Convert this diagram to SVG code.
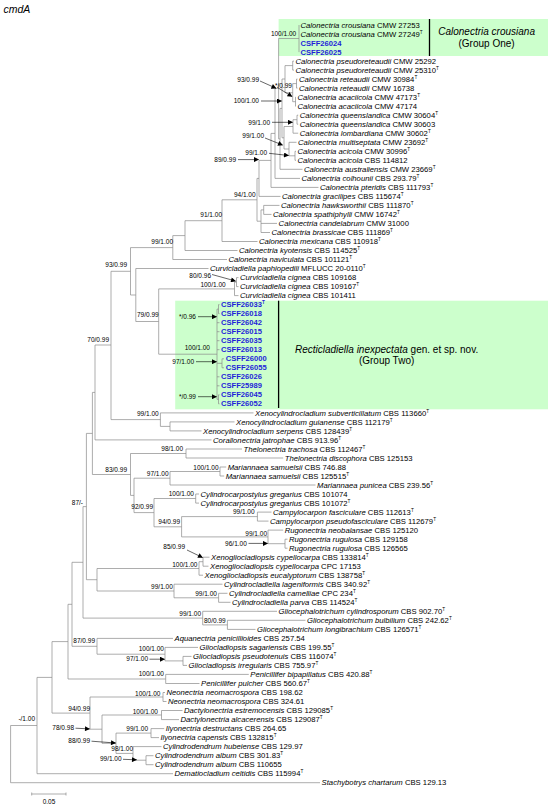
<svg xmlns="http://www.w3.org/2000/svg" width="550" height="807" viewBox="0 0 550 807">
<style>
text{font-family:"Liberation Sans",Arial,sans-serif;fill:#000}
.t{font-size:7.7px}
.i{font-style:italic}
.b{font-size:7.6px;font-weight:bold;fill:#1f1fd9}
.s{font-size:6.5px;text-anchor:end}
.sa{font-size:6.5px}
.sup{font-size:4.7px}
.box{fill:#ccffcc}
.sep{stroke:#000;stroke-width:1.3}
.br{fill:none;stroke:#8a8a8a;stroke-width:0.7}
.ar{fill:none;stroke:#000;stroke-width:0.6;marker-end:url(#ah)}
.big{font-size:10px;text-anchor:middle}
</style>
<defs>
<marker id="ah" viewBox="0 0 10 10" refX="9" refY="5" markerWidth="6" markerHeight="5" orient="auto" markerUnits="userSpaceOnUse"><path d="M0 0 L10 5 L0 10 Z" fill="#000"/></marker>
</defs>
<rect width="550" height="807" fill="#fff"/>
<text x="3.5" y="12.5" class="i" style="font-size:10.5px">cmdA</text>
<g id="group-one">
<rect class="box" x="278.6" y="19" width="269.4" height="37"/>
<line class="sep" x1="429.5" y1="19" x2="429.5" y2="56"/>
<text x="486.6" y="35" class="big i">Calonectria crousiana</text>
<text x="486.6" y="47" class="big">(Group One)</text>
</g>
<g id="group-two">
<rect class="box" x="175.2" y="300.7" width="372.8" height="108.6"/>
<line class="sep" x1="278.6" y1="300.7" x2="278.6" y2="408"/>
<text x="386.6" y="352.5" class="big"><tspan class="i">Recticladiella inexpectata</tspan> gen. et sp. nov.</text>
<text x="386.6" y="364" class="big">(Group Two)</text>
</g>
<g id="connectors" class="br">
<path d="M10.6 725.5V782.7M10.6 725.5H37M10.6 782.7H320"/>
<path d="M37 677.4V773.7M37 677.4H52M37 773.7H173"/>
<path d="M52 641.6V713.1M52 641.6H68M52 713.1H90"/>
<path d="M68 604.3V679M68 604.3H72M68 679H165.7"/>
<path d="M72 562.3V646.3M72 562.3H83M72 646.3H97"/>
<path d="M83 506.6V618.1M83 506.6H86.4M83 618.1H202.7"/>
<path d="M86.4 433.4V579.7M86.4 433.4H92.4M86.4 579.7H97"/>
<path d="M92.4 392.4V474.5M92.4 392.4H95M92.4 474.5H130.5"/>
<path d="M95 345V439.9M95 345H111M95 439.9H211.5"/>
<path d="M111 271.3V419.6M111 271.3H130.5M111 419.6H160.4"/>
<path d="M130.5 247.6V295M130.5 247.6H172.8M130.5 295H135.8"/>
<path d="M135.8 268.5V321.5M135.8 268.5H208.5M135.8 321.5H158.7"/>
<path d="M158.7 288.9V354.2M158.7 288.9H234.5M158.7 354.2H217"/>
<path d="M234.5 282.1V295.6M234.5 282.1H236.5M234.5 295.6H238.5"/>
<path d="M236.5 277.6V286.6M236.5 277.6H238.5M236.5 286.6H238.5"/>
<path d="M217 309.1V399.3M217 309.1H218.5M218.5 304.6V313.6M218.5 304.6H219.5M218.5 313.6H219.5M217 322.7H219.5M217 331.7H219.5M217 340.7H219.5M217 349.7H219.5M217 363.3H222M222 358.8V367.8M222 358.8H224M222 367.8H224M217 376.8H219.5M217 385.8H219.5M217 399.3H218.5M218.5 394.8V403.8M218.5 394.8H219.5M218.5 403.8H219.5"/>
<path d="M160.4 412.9V426.4M160.4 412.9H253.5M160.4 426.4H170"/>
<path d="M170 421.9V430.9M170 421.9H234.5M170 430.9H201.5"/>
<path d="M130.5 453.5V495.4M130.5 453.5H186M130.5 495.4H134"/>
<path d="M186 449V458M186 449H242M186 458H283.2"/>
<path d="M134 478.2V512.6M134 478.2H170M134 512.6H154"/>
<path d="M170 471.5V485M170 471.5H220M170 485H315.5"/>
<path d="M220 467V476M220 467H226.2M220 476H224.2"/>
<path d="M154 498.5V526.8M154 498.5H195.7M154 526.8H181.6"/>
<path d="M195.7 494V503.1M195.7 494H199M195.7 503.1H199"/>
<path d="M181.6 516.6V536.9M181.6 516.6H257.4M181.6 536.9H268"/>
<path d="M257.4 512.1V521.1M257.4 512.1H271.5M257.4 521.1H268.5"/>
<path d="M268 530.1V543.7M268 530.1H283.2M268 543.7H285"/>
<path d="M285 539.2V548.2M285 539.2H287.5M285 548.2H287.5"/>
<path d="M97 568.5V591M97 568.5H199M97 591H174"/>
<path d="M199 561.7V575.2M199 561.7H203M199 575.2H203"/>
<path d="M203 557.2V566.2M203 557.2H209.5M203 566.2H208.5"/>
<path d="M174 584.2V597.8M174 584.2H222.5M174 597.8H218.6"/>
<path d="M218.6 593.3V602.3M218.6 593.3H227.5M218.6 602.3H230.5"/>
<path d="M202.7 611.3V624.9M202.7 611.3H277M202.7 624.9H227.4"/>
<path d="M227.4 620.3V629.4M227.4 620.3H305.5M227.4 629.4H255.5"/>
<path d="M97 638.4V654.2M97 638.4H173M97 654.2H165"/>
<path d="M165 647.4V660.9M165 647.4H198M165 660.9H183"/>
<path d="M183 656.4V665.4M183 656.4H191.5M183 665.4H187"/>
<path d="M165.7 674.4V683.5M165.7 674.4H248.8M165.7 683.5H199.5"/>
<path d="M90 697V729.2M90 697H163M90 729.2H102"/>
<path d="M163 692.5V701.5M163 692.5H165M163 701.5H166.5"/>
<path d="M102 715V743.3M102 715H161.5M102 743.3H116"/>
<path d="M161.5 710.5V719.6M161.5 710.5H182.5M161.5 719.6H179"/>
<path d="M116 733.1V753.4M116 733.1H151M116 753.4H133"/>
<path d="M151 728.6V737.6M151 728.6H164.2M151 737.6H159"/>
<path d="M133 746.6V760.2M133 746.6H161.5M133 760.2H146"/>
<path d="M146 755.7V764.7M146 755.7H153.5M146 764.7H153.5"/>
<path d="M172.8 235.6V259.5M172.8 235.6H185M172.8 259.5H227"/>
<path d="M185 220.7V250.5M185 220.7H222M185 250.5H237.5"/>
<path d="M222 199.8V241.5M222 199.8H257M222 241.5H257.5"/>
<path d="M257 178.4V221.2M257 178.4H259M257 221.2H261"/>
<path d="M259 160.4V196.4M259 160.4H271M259 196.4H280.5"/>
<path d="M261 209.9V232.5M261 209.9H263.7M261 223.4H277M261 232.5H270"/>
<path d="M263.7 205.4V214.4M263.7 205.4H279.5M263.7 214.4H271.5"/>
<path d="M271 133.4V187.4M271 133.4H275M271 187.4H318.5"/>
<path d="M275 88.4V178.4M275 88.4H278.6M275 178.4H300"/>
<path d="M278.6 38.5V138.9M278.6 38.5H299M278.6 138.9H280"/>
<path d="M299 25V52.1"/>
<path d="M280 108.4V169.3M280 108.4H282M280 169.3H302.5"/>
<path d="M282 79V137.8M282 79H285M282 137.8H284"/>
<path d="M285 65.6V92.7M285 65.6H292.7M285 92.7H292.7"/>
<path d="M292.7 61.1V70.1M292.7 61.1H294M292.7 70.1H294"/>
<path d="M292.7 83.6V101.7M292.7 83.6H296.5M292.7 101.7H295.5"/>
<path d="M296.5 79.1V88.1M296.5 79.1H297.5M296.5 88.1H297.5"/>
<path d="M295.5 97.2V106.2M295.5 97.2H296M295.5 106.2H296"/>
<path d="M284 126.5V149M284 126.5H293M284 149H289"/>
<path d="M293 119.7V133.2M293 119.7H297M293 133.2H298.2"/>
<path d="M297 115.2V124.2M297 115.2H298.2M297 124.2H298.2"/>
<path d="M289 142.3V155.8M289 142.3H296.5M289 155.8H295"/>
<path d="M295 151.3V160.3M295 151.3H296M295 160.3H296"/>
<path d="M31.7 794H66M31.7 792.5V795.5M66 792.5V795.5"/>
</g>
<g id="arrows">
<path class="ar" d="M260 81L276 88.2"/>
<path class="ar" d="M277.5 87.5L292 96.5"/>
<path class="ar" d="M261 101H281.5"/>
<path class="ar" d="M272 122.3H292.5"/>
<path class="ar" d="M265 138L282.5 145"/>
<path class="ar" d="M269 153.3L288.5 155.5"/>
<path class="ar" d="M238 159.6H258.5"/>
<path class="ar" d="M212 274.5L235.5 281"/>
<path class="ar" d="M198 316.7H216.5"/>
<path class="ar" d="M196 361.7H216.5"/>
<path class="ar" d="M198 396.7H216.5"/>
<path class="ar" d="M248.5 543.4H267.5"/>
<path class="ar" d="M187 550L202.5 557.5"/>
<path class="ar" d="M149.5 659.2H164.5"/>
<path class="ar" d="M75.5 728.2L89.5 728.9"/>
<path class="ar" d="M91.5 741.2L115.5 743"/>
<path class="ar" d="M123 759.3L136.5 759.8"/>
</g>
<g id="supports">
<text class="s" x="296.2" y="36.2">100/1.00</text>
<text class="s" x="259" y="82.3">93/0.99</text>
<text class="sa" x="275" y="88">*/0.99</text>
<text class="s" x="259" y="103.3">100/1.00</text>
<text class="s" x="270" y="124.6">99/1.00</text>
<text class="s" x="264" y="138.3">99/1.00</text>
<text class="s" x="267" y="155">99/1.00</text>
<text class="s" x="236" y="161.6">89/0.99</text>
<text class="s" x="255.6" y="197.3">94/1.00</text>
<text class="s" x="222" y="216.6">91/1.00</text>
<text class="s" x="173" y="244">99/1.00</text>
<text class="s" x="127" y="267.3">93/0.99</text>
<text class="s" x="211" y="278">80/0.96</text>
<text class="s" x="225.7" y="286.6">100/1.00</text>
<text class="s" x="158.7" y="317.3">79/0.99</text>
<text class="s" x="196" y="319">*/0.96</text>
<text class="s" x="109" y="342.3">70/0.99</text>
<text class="s" x="210" y="350">100/1.00</text>
<text class="s" x="194" y="364">97/1.00</text>
<text class="s" x="196" y="399">*/0.99</text>
<text class="s" x="158.7" y="416.3">99/1.00</text>
<text class="s" x="183" y="451.3">98/1.00</text>
<text class="s" x="218.6" y="470.3">100/1.00</text>
<text class="s" x="127" y="472.3">83/0.99</text>
<text class="s" x="168.5" y="475.6">97/1.00</text>
<text class="s" x="194" y="495.6">100/1.00</text>
<text class="s" x="83" y="505">87/-</text>
<text class="s" x="153" y="509">92/0.99</text>
<text class="s" x="254.6" y="514.3">99/1.00</text>
<text class="s" x="180" y="524">94/0.99</text>
<text class="s" x="267" y="535.6">99/1.00</text>
<text class="s" x="246.8" y="545.6">96/1.00</text>
<text class="s" x="185" y="549.3">85/0.99</text>
<text class="s" x="197.5" y="567.3">100/1.00</text>
<text class="s" x="172.8" y="589">99/1.00</text>
<text class="s" x="216.9" y="595.6">99/1.00</text>
<text class="s" x="201" y="615.6">99/1.00</text>
<text class="s" x="225.7" y="623">80/0.99</text>
<text class="s" x="95" y="643">87/0.99</text>
<text class="s" x="164" y="650.6">100/1.00</text>
<text class="s" x="148" y="661.3">97/1.00</text>
<text class="s" x="164" y="676.3">100/1.00</text>
<text class="s" x="160.4" y="695.6">100/1.00</text>
<text class="s" x="90" y="710.6">94/0.99</text>
<text class="s" x="158" y="714">100/1.00</text>
<text class="s" x="35" y="721.3">-/1.00</text>
<text class="s" x="74" y="730">78/0.98</text>
<text class="s" x="148" y="731.3">99/1.00</text>
<text class="s" x="90" y="743.3">88/0.99</text>
<text class="s" x="133" y="751.3">98/1.00</text>
<text class="s" x="121.6" y="761.3">99/1.00</text>
<text class="sa" x="49" y="803.5" text-anchor="middle">0.05</text>
</g>
<g id="taxa" class="t">
<g id="t01"><text class="t" x="300.5" y="27.6"><tspan class="i">Calonectria crousiana</tspan> CMW 27253</text></g>
<g id="t02"><text class="t" x="300.5" y="36.6"><tspan class="i">Calonectria crousiana</tspan> CMW 27249<tspan class="sup" dy="-3">T</tspan></text></g>
<g id="t03"><text class="b" x="300.5" y="45.6">CSFF26024</text></g>
<g id="t04"><text class="b" x="300.5" y="54.7">CSFF26025</text></g>
<g id="t05"><text class="t" x="295.5" y="63.7"><tspan class="i">Calonectria pseudoreteaudii</tspan> CMW 25292</text></g>
<g id="t06"><text class="t" x="295.5" y="72.7"><tspan class="i">Calonectria pseudoreteaudii</tspan> CMW 25310<tspan class="sup" dy="-3">T</tspan></text></g>
<g id="t07"><text class="t" x="299" y="81.7"><tspan class="i">Calonectria reteaudii</tspan> CMW 30984<tspan class="sup" dy="-3">T</tspan></text></g>
<g id="t08"><text class="t" x="299" y="90.7"><tspan class="i">Calonectria reteaudii</tspan> CMW 16738</text></g>
<g id="t09"><text class="t" x="297.5" y="99.8"><tspan class="i">Calonectria acaciicola</tspan> CMW 47173<tspan class="sup" dy="-3">T</tspan></text></g>
<g id="t10"><text class="t" x="297.5" y="108.8"><tspan class="i">Calonectria acaciicola</tspan> CMW 47174</text></g>
<g id="t11"><text class="t" x="299.7" y="117.8"><tspan class="i">Calonectria queenslandica</tspan> CMW 30604<tspan class="sup" dy="-3">T</tspan></text></g>
<g id="t12"><text class="t" x="299.7" y="126.8"><tspan class="i">Calonectria queenslandica</tspan> CMW 30603</text></g>
<g id="t13"><text class="t" x="299.7" y="135.8"><tspan class="i">Calonectria lombardiana</tspan> CMW 30602<tspan class="sup" dy="-3">T</tspan></text></g>
<g id="t14"><text class="t" x="298" y="144.9"><tspan class="i">Calonectria multiseptata</tspan> CMW 23692<tspan class="sup" dy="-3">T</tspan></text></g>
<g id="t15"><text class="t" x="297.5" y="153.9"><tspan class="i">Calonectria acicola</tspan> CMW 30996<tspan class="sup" dy="-3">T</tspan></text></g>
<g id="t16"><text class="t" x="297.5" y="162.9"><tspan class="i">Calonectria acicola</tspan> CBS 114812</text></g>
<g id="t17"><text class="t" x="304" y="171.9"><tspan class="i">Calonectria australiensis</tspan> CMW 23669<tspan class="sup" dy="-3">T</tspan></text></g>
<g id="t18"><text class="t" x="301.5" y="181"><tspan class="i">Calonectria colhounii</tspan> CBS 293.79<tspan class="sup" dy="-3">T</tspan></text></g>
<g id="t19"><text class="t" x="320" y="190"><tspan class="i">Calonectria pteridis</tspan> CBS 111793<tspan class="sup" dy="-3">T</tspan></text></g>
<g id="t20"><text class="t" x="282" y="199"><tspan class="i">Calonectria gracilipes</tspan> CBS 115674<tspan class="sup" dy="-3">T</tspan></text></g>
<g id="t21"><text class="t" x="281" y="208"><tspan class="i">Calonectria hawksworthii</tspan> CBS 111870<tspan class="sup" dy="-3">T</tspan></text></g>
<g id="t22"><text class="t" x="273" y="217"><tspan class="i">Calonectria spathiphylli</tspan> CMW 16742<tspan class="sup" dy="-3">T</tspan></text></g>
<g id="t23"><text class="t" x="278.6" y="226"><tspan class="i">Calonectria candelabrum</tspan> CMW 31000</text></g>
<g id="t24"><text class="t" x="271.5" y="235.1"><tspan class="i">Calonectria brassicae</tspan> CBS 111869<tspan class="sup" dy="-3">T</tspan></text></g>
<g id="t25"><text class="t" x="259" y="244.1"><tspan class="i">Calonectria mexicana</tspan> CBS 110918<tspan class="sup" dy="-3">T</tspan></text></g>
<g id="t26"><text class="t" x="239" y="253.1"><tspan class="i">Calonectria kyotensis</tspan> CBS 114525<tspan class="sup" dy="-3">T</tspan></text></g>
<g id="t27"><text class="t" x="228.5" y="262.1"><tspan class="i">Calonectria naviculata</tspan> CBS 101121<tspan class="sup" dy="-3">T</tspan></text></g>
<g id="t28"><text class="t" x="210" y="271.1"><tspan class="i">Curvicladiella paphiopedili</tspan> MFLUCC 20-0110<tspan class="sup" dy="-3">T</tspan></text></g>
<g id="t29"><text class="t" x="240" y="280.2"><tspan class="i">Curvicladiella cignea</tspan> CBS 109168</text></g>
<g id="t30"><text class="t" x="240" y="289.2"><tspan class="i">Curvicladiella cignea</tspan> CBS 109167<tspan class="sup" dy="-3">T</tspan></text></g>
<g id="t31"><text class="t" x="240" y="298.2"><tspan class="i">Curvicladiella cignea</tspan> CBS 101411</text></g>
<g id="t32"><text class="b" x="221" y="307.2">CSFF26033<tspan class="sup" dy="-3">T</tspan></text></g>
<g id="t33"><text class="b" x="221" y="316.2">CSFF26018</text></g>
<g id="t34"><text class="b" x="221" y="325.3">CSFF26042</text></g>
<g id="t35"><text class="b" x="221" y="334.3">CSFF26015</text></g>
<g id="t36"><text class="b" x="221" y="343.3">CSFF26035</text></g>
<g id="t37"><text class="b" x="221" y="352.3">CSFF26013</text></g>
<g id="t38"><text class="b" x="225.7" y="361.4">CSFF26000</text></g>
<g id="t39"><text class="b" x="225.7" y="370.4">CSFF26055</text></g>
<g id="t40"><text class="b" x="221" y="379.4">CSFF26026</text></g>
<g id="t41"><text class="b" x="221" y="388.4">CSFF25989</text></g>
<g id="t42"><text class="b" x="221" y="397.4">CSFF26045</text></g>
<g id="t43"><text class="b" x="221" y="406.4">CSFF26052</text></g>
<g id="t44"><text class="t" x="255" y="415.5"><tspan class="i">Xenocylindrocladium subverticillatum</tspan> CBS 113660<tspan class="sup" dy="-3">T</tspan></text></g>
<g id="t45"><text class="t" x="236" y="424.5"><tspan class="i">Xenocylindrocladium guianense</tspan> CBS 112179<tspan class="sup" dy="-3">T</tspan></text></g>
<g id="t46"><text class="t" x="203" y="433.5"><tspan class="i">Xenocylindrocladium serpens</tspan> CBS 128439<tspan class="sup" dy="-3">T</tspan></text></g>
<g id="t47"><text class="t" x="213" y="442.5"><tspan class="i">Corallonectria jatrophae</tspan> CBS 913.96<tspan class="sup" dy="-3">T</tspan></text></g>
<g id="t48"><text class="t" x="243.5" y="451.6"><tspan class="i">Thelonectria trachosa</tspan> CBS 112467<tspan class="sup" dy="-3">T</tspan></text></g>
<g id="t49"><text class="t" x="284.7" y="460.6"><tspan class="i">Thelonectria discophora</tspan> CBS 125153</text></g>
<g id="t50"><text class="t" x="227.7" y="469.6"><tspan class="i">Mariannaea samuelsii</tspan> CBS 746.88</text></g>
<g id="t51"><text class="t" x="225.7" y="478.6"><tspan class="i">Mariannaea samuelsii</tspan> CBS 125515<tspan class="sup" dy="-3">T</tspan></text></g>
<g id="t52"><text class="t" x="317" y="487.6"><tspan class="i">Mariannaea punicea</tspan> CBS 239.56<tspan class="sup" dy="-3">T</tspan></text></g>
<g id="t53"><text class="t" x="200.5" y="496.6"><tspan class="i">Cylindrocarpostylus gregarius</tspan> CBS 101074</text></g>
<g id="t54"><text class="t" x="200.5" y="505.7"><tspan class="i">Cylindrocarpostylus gregarius</tspan> CBS 101072<tspan class="sup" dy="-3">T</tspan></text></g>
<g id="t55"><text class="t" x="273" y="514.7"><tspan class="i">Campylocarpon fasciculare</tspan> CBS 112613<tspan class="sup" dy="-3">T</tspan></text></g>
<g id="t56"><text class="t" x="270" y="523.7"><tspan class="i">Campylocarpon pseudofasciculare</tspan> CBS 112679<tspan class="sup" dy="-3">T</tspan></text></g>
<g id="t57"><text class="t" x="284.7" y="532.7"><tspan class="i">Rugonectria neobalansae</tspan> CBS 125120</text></g>
<g id="t58"><text class="t" x="289" y="541.8"><tspan class="i">Rugonectria rugulosa</tspan> CBS 129158</text></g>
<g id="t59"><text class="t" x="289" y="550.8"><tspan class="i">Rugonectria rugulosa</tspan> CBS 126565</text></g>
<g id="t60"><text class="t" x="211" y="559.8"><tspan class="i">Xenogliocladiopsis cypellocarpa</tspan> CBS 133814<tspan class="sup" dy="-3">T</tspan></text></g>
<g id="t61"><text class="t" x="210" y="568.8"><tspan class="i">Xenogliocladiopsis cypellocarpa</tspan> CPC 17153</text></g>
<g id="t62"><text class="t" x="204.5" y="577.8"><tspan class="i">Xenogliocladiopsis eucalyptorum</tspan> CBS 138758<tspan class="sup" dy="-3">T</tspan></text></g>
<g id="t63"><text class="t" x="224" y="586.8"><tspan class="i">Cylindrocladiella lageniformis</tspan> CBS 340.92<tspan class="sup" dy="-3">T</tspan></text></g>
<g id="t64"><text class="t" x="229" y="595.9"><tspan class="i">Cylindrocladiella camelliae</tspan> CPC 234<tspan class="sup" dy="-3">T</tspan></text></g>
<g id="t65"><text class="t" x="232" y="604.9"><tspan class="i">Cylindrocladiella parva</tspan> CBS 114524<tspan class="sup" dy="-3">T</tspan></text></g>
<g id="t66"><text class="t" x="278.6" y="613.9"><tspan class="i">Gliocephalotrichum cylindrosporum</tspan> CBS 902.70<tspan class="sup" dy="-3">T</tspan></text></g>
<g id="t67"><text class="t" x="307" y="622.9"><tspan class="i">Gliocephalotrichum bulbilium</tspan> CBS 242.62<tspan class="sup" dy="-3">T</tspan></text></g>
<g id="t68"><text class="t" x="257" y="632"><tspan class="i">Gliocephalotrichum longibrachium</tspan> CBS 126571<tspan class="sup" dy="-3">T</tspan></text></g>
<g id="t69"><text class="t" x="174.5" y="641"><tspan class="i">Aquanectria penicillioides</tspan> CBS 257.54</text></g>
<g id="t70"><text class="t" x="199.5" y="650"><tspan class="i">Gliocladiopsis sagariensis</tspan> CBS 199.55<tspan class="sup" dy="-3">T</tspan></text></g>
<g id="t71"><text class="t" x="193" y="659"><tspan class="i">Gliocladiopsis pseudotenuis</tspan> CBS 116074<tspan class="sup" dy="-3">T</tspan></text></g>
<g id="t72"><text class="t" x="188.5" y="668"><tspan class="i">Gliocladiopsis irregularis</tspan> CBS 755.97<tspan class="sup" dy="-3">T</tspan></text></g>
<g id="t73"><text class="t" x="250.3" y="677"><tspan class="i">Penicillifer bipapillatus</tspan> CBS 420.88<tspan class="sup" dy="-3">T</tspan></text></g>
<g id="t74"><text class="t" x="201" y="686.1"><tspan class="i">Penicillifer pulcher</tspan> CBS 560.67<tspan class="sup" dy="-3">T</tspan></text></g>
<g id="t75"><text class="t" x="166.4" y="695.1"><tspan class="i">Neonectria neomacrospora</tspan> CBS 198.62</text></g>
<g id="t76"><text class="t" x="168" y="704.1"><tspan class="i">Neonectria neomacrospora</tspan> CBS 324.61</text></g>
<g id="t77"><text class="t" x="184" y="713.1"><tspan class="i">Dactylonectria estremocensis</tspan> CBS 129085<tspan class="sup" dy="-3">T</tspan></text></g>
<g id="t78"><text class="t" x="180.5" y="722.2"><tspan class="i">Dactylonectria alcacerensis</tspan> CBS 129087<tspan class="sup" dy="-3">T</tspan></text></g>
<g id="t79"><text class="t" x="165.7" y="731.2"><tspan class="i">Ilyonectria destructans</tspan> CBS 264.65</text></g>
<g id="t80"><text class="t" x="160.4" y="740.2"><tspan class="i">Ilyonectria capensis</tspan> CBS 132815<tspan class="sup" dy="-3">T</tspan></text></g>
<g id="t81"><text class="t" x="163" y="749.2"><tspan class="i">Cylindrodendrum hubeiense</tspan> CBS 129.97</text></g>
<g id="t82"><text class="t" x="155" y="758.3"><tspan class="i">Cylindrodendrum album</tspan> CBS 301.83<tspan class="sup" dy="-3">T</tspan></text></g>
<g id="t83"><text class="t" x="155" y="767.3"><tspan class="i">Cylindrodendrum album</tspan> CBS 110655</text></g>
<g id="t84"><text class="t" x="174.5" y="776.3"><tspan class="i">Dematiocladium celtidis</tspan> CBS 115994<tspan class="sup" dy="-3">T</tspan></text></g>
<g id="t85"><text class="t" x="321.6" y="785.3"><tspan class="i">Stachybotrys chartarum</tspan> CBS 129.13</text></g>
</g>
</svg>
